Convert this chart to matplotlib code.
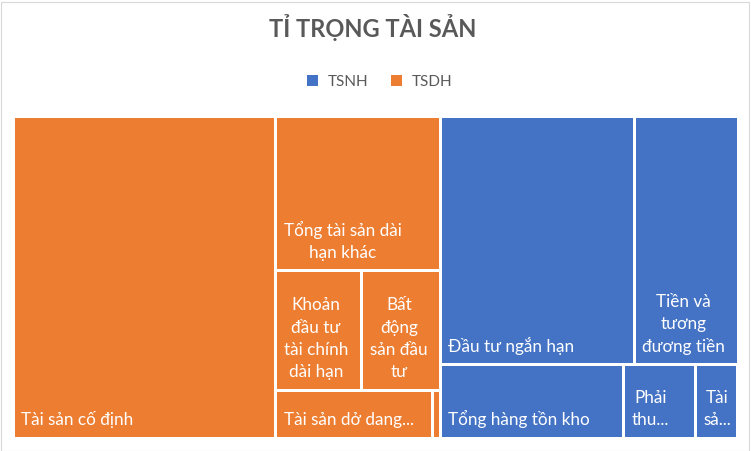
import matplotlib
matplotlib.use("Agg")
import matplotlib.pyplot as plt
from matplotlib.patches import Rectangle, Patch
from matplotlib.font_manager import FontProperties

# ---------------- data ----------------
title = "TỈ TRỌNG TÀI SẢN"
groups = ["TSNH", "TSDH"]
group_colors = {"TSNH": "#4472C4", "TSDH": "#ED7D31"}

tsdh_names = ["Tài sản cố định", "Tổng tài sản dài hạn khác",
              "Khoản đầu tư tài chính dài hạn", "Bất động sản đầu tư",
              "Tài sản dở dang dài hạn", "Phải thu dài hạn"]
tsdh_values = [83418, 25143, 10174, 9204, 7396, 335]

tsnh_names = ["Đầu tư ngắn hạn", "Tiền và tương đương tiền",
              "Tổng hàng tồn kho", "Phải thu ngắn hạn", "Tài sản ngắn hạn khác"]
tsnh_values = [47585, 25492, 13304, 5184, 3082]

# ---------------- style ----------------
FAMILY = ["Lato", "Noto Sans", "DejaVu Sans"]
plt.rcParams["font.family"] = FAMILY
LABEL_FS = 12.3
LINE_H = 22.4      # px between baselines
PAD_X = 7.0
ELLIPSIS_SLACK = 4.0
BOTTOM_PAD = 11.0
GAP = 3.0          # white gap, px

W_PX, H_PX = 751, 451
fig = plt.figure(figsize=(W_PX / 100, H_PX / 100), dpi=100)

# plot area (pixels) expanded by half a gap on each side
left, top, right, bottom = 12.5, 115.5, 737.5, 437.5
ax = fig.add_axes([left / W_PX, 1 - bottom / H_PX,
                   (right - left) / W_PX, (bottom - top) / H_PX])
AW, AH = right - left, bottom - top
ax.set_xlim(0, AW)
ax.set_ylim(AH, 0)
ax.axis("off")


def squarify(values, x, y, w, h):
    """Squarified layout using the mean aspect ratio of the row."""
    total = sum(values)
    vals = [v * w * h / total for v in values]
    rects = []
    while vals:
        if len(vals) == 1:
            rects.append((x, y, w, h))
            break
        short = min(w, h)

        def score(row):
            s = sum(row)
            thick = s / short
            r = [max(thick / (v / thick), (v / thick) / thick) for v in row]
            return sum(r) / len(r)

        row = [vals[0]]
        i = 1
        while i < len(vals) and score(row + [vals[i]]) <= score(row):
            row.append(vals[i])
            i += 1
        thick = sum(row) / short
        if w >= h:
            yy = y
            for v in row:
                hh = v / thick
                rects.append((x, yy, thick, hh))
                yy += hh
            x += thick
            w -= thick
        else:
            xx = x
            for v in row:
                ww = v / thick
                rects.append((xx, y, ww, thick))
                xx += ww
            y += thick
            h -= thick
        vals = vals[i:]
    return rects


renderer = fig.canvas.get_renderer()
fp = FontProperties(family=FAMILY, size=LABEL_FS)


def text_w(s):
    w, h, d = renderer.get_text_width_height_descent(s, fp, ismath=False)
    return w


def wrap(name, avail_w, avail_h):
    if avail_w < text_w("..."):
        return []
    words = name.split()
    lines, cur = [], ""
    for wd in words:
        test = (cur + " " + wd) if cur else wd
        if text_w(test) <= avail_w:
            cur = test
        else:
            if cur:
                lines.append(cur)
            cur = wd
    if cur:
        lines.append(cur)
    nmax = int((avail_h - 8) // LINE_H)
    if nmax < 1:
        return []
    if len(lines) > nmax:
        lines = lines[:nmax]
        last = lines[-1]
        cand = last + "..."
        while text_w(cand) > avail_w + ELLIPSIS_SLACK and last:
            last = last[:-1]
            cand = last + "..."
        lines[-1] = cand
    return lines


group_vals = [sum(tsdh_values), sum(tsnh_values)]
group_order = ["TSDH", "TSNH"]
group_items = {"TSDH": (tsdh_names, tsdh_values), "TSNH": (tsnh_names, tsnh_values)}

for g, (gx, gy, gw, gh) in zip(group_order, squarify(group_vals, 0, 0, AW, AH)):
    names, vals = group_items[g]
    for name, (x, y, w, h) in zip(names, squarify(vals, gx, gy, gw, gh)):
        ax.add_patch(Rectangle((x, y), w, h, facecolor=group_colors[g],
                               edgecolor="white", linewidth=GAP * 72 / 100))
        vx, vy, vw, vh = x + GAP / 2, y + GAP / 2, w - GAP, h - GAP
        lines = wrap(name, vw - 2 * PAD_X, vh)
        if not lines:
            continue
        bw = max(text_w(s) for s in lines)
        cx = vx + PAD_X + bw / 2
        n = len(lines)
        for i, s in enumerate(lines):
            by = vy + vh - BOTTOM_PAD - (n - 1 - i) * LINE_H
            ax.text(cx, by, s, ha="center", va="baseline", color="white",
                    fontsize=LABEL_FS, family=FAMILY)

# title
fig.text(372.5 / W_PX, 1 - 36.7 / H_PX, title, ha="center", va="baseline",
         fontsize=17, fontweight="bold", color="#595959", family=FAMILY)

# legend
handles = [Patch(facecolor=group_colors[g], edgecolor="none") for g in groups]
fig.legend(handles, groups, loc="center", bbox_to_anchor=(379.5 / W_PX, 1 - 81.5 / H_PX),
           ncol=2, frameon=False, fontsize=11, labelcolor="#595959",
           handlelength=0.75, handleheight=0.75, handletextpad=0.6, columnspacing=1.5)

# chart border
fig.add_artist(Rectangle((0.5 / W_PX, 0.5 / H_PX), 748 / W_PX, 449 / H_PX,
                         transform=fig.transFigure, fill=False,
                         edgecolor="#D9D9D9", linewidth=0.8))

fig.savefig("out.png", dpi=100)
